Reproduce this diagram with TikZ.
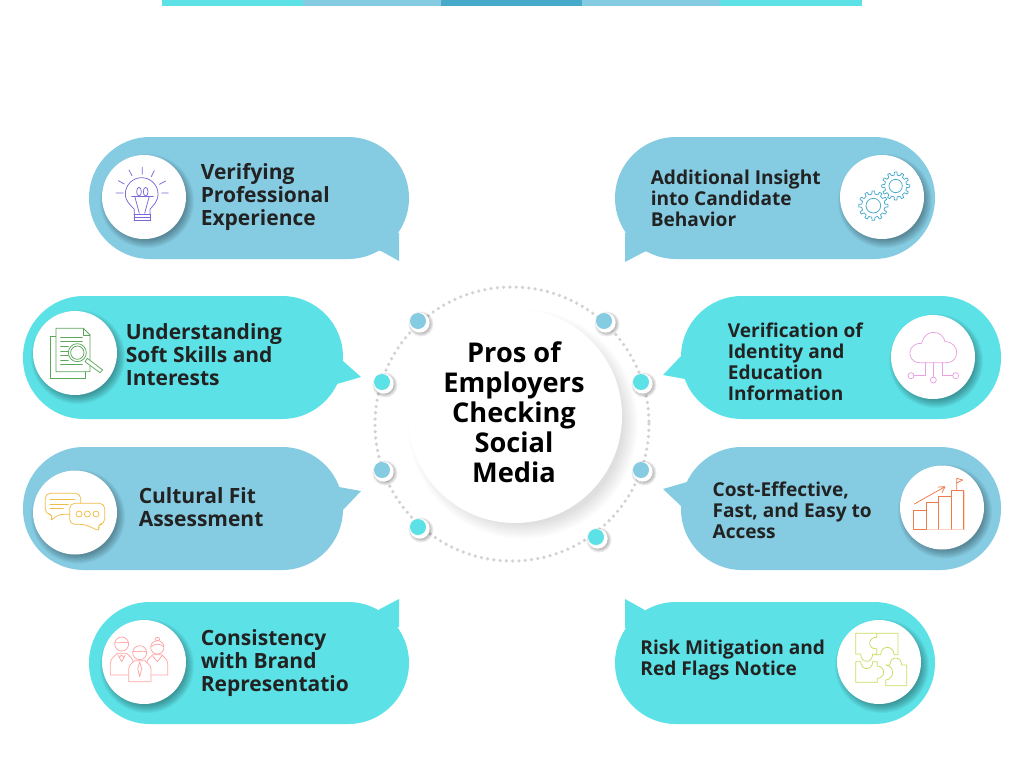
\documentclass[tikz,border=0pt]{standalone}
\usepackage{fontspec}
\setmainfont{Open Sans}
\definecolor{teal}{HTML}{5CE1E6}
\definecolor{sky}{HTML}{85CBE2}
\definecolor{deep}{HTML}{48AACB}
\definecolor{ink}{HTML}{222222}
\definecolor{ringgray}{HTML}{D2D2D2}
\definecolor{cbulb}{HTML}{7B68D8}
\definecolor{cdoc}{HTML}{5BA85B}
\definecolor{cchat}{HTML}{F0BE48}
\definecolor{cpeople}{HTML}{FFA6A6}
\definecolor{ccloud}{HTML}{E8A2E2}
\definecolor{cchart}{HTML}{EE7B4A}
\definecolor{cpale}{HTML}{FAD5C2}
\definecolor{cpuzzle}{HTML}{CBDD5E}
\tikzset{
  x=1pt,y=-1pt,
  bubbleshape/.style={rounded corners=61pt},
  iconcircle/.style={circle,fill=white,minimum size=84pt,inner sep=0pt},
  bigtext/.style={anchor=base west,align=left,inner sep=0pt,text=ink,font=\fontsize{21}{23}\selectfont\bfseries},
  smalltext/.style={anchor=base west,align=left,inner sep=0pt,text=ink,font=\fontsize{19.1}{21}\selectfont\bfseries},
  icon/.style={line width=0.75pt,line join=round,line cap=round},
  zoomcrop/.style={shift={#1},scale=1/3},
  smalldot/.style={circle,inner sep=0pt,minimum size=16pt},
}
\newcommand{\softshadow}[3]{%
  \foreach \k in {0,1,...,8}{\fill[black,opacity=.04] (#1+3,#2+4) circle ({#3-3+\k});}}
\newcommand{\gearshape}[5]{% cx cy R r inner
  \draw[icon,deep,fill=white] (#1+#3,#2)
   \foreach \a in {0,30,...,330}{
     -- ({#1+#3*cos(\a+5)},{#2+#3*sin(\a+5)})
     -- ({#1+#4*cos(\a+8)},{#2+#4*sin(\a+8)})
     -- ({#1+#4*cos(\a+22)},{#2+#4*sin(\a+22)})
     -- ({#1+#3*cos(\a+25)},{#2+#3*sin(\a+25)})
     -- ({#1+#3*cos(\a+30)},{#2+#3*sin(\a+30)})
   } -- cycle;
  \draw[icon,deep] (#1,#2) circle (#5);}
\newcommand{\ringdot}[4]{% name x y colour
  \foreach \k in {0,1,2,3}{\fill[black,opacity=.07] (#2+3,#3+3) circle ({9.5+\k});}
  \fill[white] (#2+1.7,#3+1.7) circle (10);
  \node[smalldot,fill=#4] (#1) at (#2,#3) {};}
\begin{document}
\begin{tikzpicture}
\useasboundingbox (0,0) rectangle (1024,768);
\fill[white] (0,0) rectangle (1024,768);
% top strip
\fill[teal] (162,0) rectangle (303,6);
\fill[sky] (303,0) rectangle (441,6);
\fill[deep] (441,0) rectangle (582,6);
\fill[sky] (582,0) rectangle (720,6);
\fill[teal] (720,0) rectangle (862,6);
% ring
\foreach \k in {0,1,...,15}{\fill[black,opacity=.006] (523,424) circle ({100+\k});}
\draw[ringgray,line width=3.6pt,line cap=round,dash pattern=on 0pt off 6.31pt] (512,424) circle (137);
\fill[white] (515,416) circle (107);
\node[circle,inner sep=0pt,minimum size=214pt] (hub) at (515,416) {};
\node[anchor=base,align=center,inner sep=0pt,text=black,font=\fontsize{27.2}{30}\selectfont\bfseries] (title) at (514,482) {Pros of\\Employers\\Checking\\Social\\Media};
\ringdot{d1}{418}{321}{sky}
\ringdot{d2}{604}{321}{sky}
\ringdot{d3}{382}{382}{teal}
\ringdot{d4}{641}{382}{teal}
\ringdot{d5}{382}{470}{sky}
\ringdot{d6}{641}{470}{sky}
\ringdot{d7}{418}{527}{teal}
\ringdot{d8}{596}{537}{teal}
% bubbles
\fill[sky,bubbleshape] (89,137) rectangle (409,259);
\fill[sky] (399,233) -- (399,261) -- (381,251) -- (340,240) -- cycle;
\fill[teal,bubbleshape] (23,296) rectangle (343,419);
\fill[teal] (343,361) -- (361,377) -- (337,384) -- (320,370) -- cycle;
\fill[sky,bubbleshape] (23,447) rectangle (343,570);
\fill[sky] (339,487) -- (361,491) -- (343,510) -- (320,500) -- cycle;
\fill[teal,bubbleshape] (89,602) rectangle (409,724);
\fill[teal] (380,609) -- (399,599) -- (399,627) -- (340,640) -- cycle;
\fill[sky,bubbleshape] (615,137) rectangle (935,259);
\fill[sky] (625,233) -- (625,262) -- (644,252) -- (680,240) -- cycle;
\fill[teal,bubbleshape] (681,296) rectangle (1001,419);
\fill[teal] (681,356) -- (663,375) -- (685,379) -- (710,370) -- cycle;
\fill[sky,bubbleshape] (681,447) rectangle (1001,570);
\fill[sky] (687,482) -- (663,489) -- (681,506) -- (710,495) -- cycle;
\fill[teal,bubbleshape] (615,602) rectangle (935,724);
\fill[teal] (643,609) -- (625,599) -- (625,628) -- (680,640) -- cycle;
% icon discs
\softshadow{144}{197}{42}\node[iconcircle] (c1) at (144,197) {};
\softshadow{75}{353}{42}\node[iconcircle] (c2) at (75,353) {};
\softshadow{75}{512.5}{42}\node[iconcircle] (c3) at (75,512.5) {};
\softshadow{144}{662}{42}\node[iconcircle] (c4) at (144,662) {};
\softshadow{882}{197}{42}\node[iconcircle] (c5) at (882,197) {};
\softshadow{933}{357}{42}\node[iconcircle] (c6) at (933,357) {};
\softshadow{942}{507.5}{42}\node[iconcircle] (c7) at (942,507.5) {};
\softshadow{879}{662}{42}\node[iconcircle] (c8) at (879,662) {};
% labels
\node[bigtext] (t1) at (200.6,225) {Verifying\\Professional\\Experience};
\node[bigtext] (t2) at (125.6,385) {Understanding\\Soft Skills and\\Interests};
\node[bigtext] (t3) at (138.6,526) {Cultural Fit\\Assessment};
\node[bigtext] (t4) at (200.6,691) {Consistency\\with Brand\\Representatio};
\node[smalltext] (t5) at (650.6,226) {Additional Insight\\into Candidate\\Behavior};
\node[smalltext] (t6) at (727.6,400) {Verification of\\Identity and\\Education\\Information};
\node[smalltext] (t7) at (712.4,538) {Cost-Effective,\\Fast, and Easy to\\Access};
\node[smalltext] (t8) at (640.2,675) {Risk Mitigation and\\Red Flags Notice};
% bulb icon
\begin{scope}[zoomcrop={(0,120)},cbulb]
\draw[icon] (403,282) -- (403,268) .. controls (392,255) and (376,245) .. (376,222) arc[start angle=180,end angle=360,radius=49] .. controls (474,245) and (460,255) .. (450,268) -- (450,282);
\draw[icon] (402,282) -- (452,282) (402,291) -- (452,291) (402,302) -- (452,302) (402,282) -- (402,302) (452,282) -- (452,302);
\draw[icon] (395,229) -- (460,229);
\draw[icon] (417,215) ellipse (7 and 13) (437,215) ellipse (7 and 13);
\draw[icon] (405,232) -- (418,280) (447,232) -- (434,280);
\draw[icon] (427,142) -- (427,163) (387,150) -- (396,167) (463,152) -- (454,170) (355,182) -- (373,192) (497,183) -- (478,193) (348,219) -- (370,219) (485,219) -- (505,219);
\end{scope}
% document icon
\begin{scope}[zoomcrop={(0,120)},cdoc]
\draw[icon] (168,650) -- (151,650) -- (151,776) -- (255,776) -- (255,755);
\draw[icon,fill=white] (168,625) -- (250,625) -- (270,645) -- (270,755) -- (168,755) -- cycle;
\draw[icon] (250,625) -- (250,645) -- (270,645);
\draw[icon] (182,652) -- (247,652) (182,665) -- (247,665) (182,680) -- (205,680) (182,695) -- (205,695) (182,707) -- (205,707) (182,720) -- (205,720) (182,733) -- (247,733);
\draw[icon,fill=white] (262,715) -- (308,750) -- (300,758) -- (255,725) -- cycle;
\draw[icon,fill=white] (232,698) circle (27);
\draw[icon] (232,698) circle (20);
\end{scope}
% chat icon
\begin{scope}[zoomcrop={(0,430)},cchat]
\draw[icon,rounded corners=5pt] (175,253) -- (148,276) -- (162,253) -- (136,253) -- (136,190) -- (242,190) -- (242,253) -- cycle;
\draw[icon] (150,208) -- (225,208) (150,222) -- (205,222) (150,235) -- (190,235);
\draw[icon,fill=white,rounded corners=5pt] (209,220) -- (314,220) -- (314,283) -- (290,283) -- (302,305) -- (255,283) -- (209,283) -- cycle;
\draw[icon] (237,252) circle (9) (262,252) circle (9) (288,252) circle (9);
\end{scope}
% people icon
\begin{scope}[zoomcrop={(0,430)},cpeople]
\draw[icon] (331,735) -- (331,700) .. controls (331,685) and (345,678) .. (352,670) -- (380,670) .. controls (388,678) and (400,685) .. (400,700) -- (400,735) -- cycle;
\draw[icon,fill=white] (365,642) circle (21);
\draw[icon] (345,638) .. controls (360,640) and (375,635) .. (385,638);
\draw[icon] (354,675) -- (365,695) -- (376,675) (358,682) -- (365,675) -- (372,682);
\draw[icon] (440,735) -- (503,735) -- (503,700) .. controls (503,688) and (492,682) .. (485,674) -- (458,674) .. controls (450,682) and (440,690) .. (440,700);
\draw[icon,fill=white] (472,652) circle (20);
\draw[icon] (472,627) ellipse (7 and 5);
\draw[icon] (453,650) .. controls (465,640) and (480,640) .. (491,650);
\draw[icon] (458,678) -- (472,695) -- (485,678);
\draw[icon,fill=white] (386,755) -- (386,718) .. controls (386,705) and (396,700) .. (404,692) -- (434,692) .. controls (442,700) and (453,705) .. (453,718) -- (453,755) -- cycle;
\draw[icon,fill=white] (419,668) circle (21);
\draw[icon] (399,664) .. controls (412,668) and (428,660) .. (439,666);
\draw[icon] (419,696) -- (413,716) -- (419,740) -- (425,716) -- cycle;
\end{scope}
% gears icon
\begin{scope}[zoomcrop={(610,120)}]
\gearshape{857}{198}{42}{33}{20}
\gearshape{790}{257}{44}{35}{22}
\end{scope}
% cloud icon
\begin{scope}[zoomcrop={(610,120)},ccloud]
\draw[icon] (930,728) .. controls (905,728) and (898,708) .. (900,695) .. controls (902,680) and (918,668) .. (935,670) .. controls (940,648) and (955,637) .. (970,637) .. controls (990,637) and (1002,650) .. (1005,665) .. controls (1028,665) and (1040,682) .. (1040,697) .. controls (1040,715) and (1028,728) .. (1010,728) -- cycle;
\draw[icon] (945,728) -- (945,767) -- (912,767) (970,728) -- (970,771) (997,728) -- (997,767) -- (1028,767);
\draw[icon] (903,767) circle (9) (970,780) circle (9) (1037,767) circle (9);
\end{scope}
% chart icon
\begin{scope}[zoomcrop={(610,430)},cchart]
\draw[cpale,line width=1pt] (910,298) -- (1063,298) -- (1063,182);
\draw[icon] (910,297) -- (910,240) -- (948,240) -- (948,297) -- cycle;
\draw[icon] (948,297) -- (948,217) -- (986,217) -- (986,297);
\draw[icon] (986,297) -- (986,200) -- (1024,200) -- (1024,297);
\draw[icon] (1024,297) -- (1024,182) -- (1061,182) -- (1061,297);
\draw[icon] (913,222) -- (1005,170) (985,171) -- (1005,170) -- (996,188);
\draw[icon] (1040,182) -- (1040,145) -- (1058,150) -- (1042,158);
\end{scope}
% puzzle icon
\begin{scope}[zoomcrop={(610,430)},cpuzzle]
\draw[icon] (800,610) -- (864,610) -- (864,674) -- (852,674) .. controls (852,660) and (842,652) .. (832,652) .. controls (822,652) and (812,660) .. (812,674) -- (800,674);
\draw[icon] (737,672) -- (737,610) -- (800,610) -- (800,622) .. controls (788,620) and (779,630) .. (779,640) .. controls (779,650) and (788,658) .. (800,656) -- (800,674) -- (788,672) .. controls (788,685) and (780,694) .. (770,694) .. controls (760,694) and (752,685) .. (752,672) -- cycle;
\draw[icon] (737,695) -- (752,695) .. controls (752,708) and (762,716) .. (770,716) .. controls (780,716) and (788,708) .. (788,695) -- (802,695) -- (802,708) .. controls (815,708) and (821,718) .. (821,727) .. controls (821,737) and (812,745) .. (802,745) -- (802,757) -- (737,757) -- cycle;
\draw[icon] (827,705) -- (840,705) .. controls (840,692) and (848,684) .. (857,684) .. controls (866,684) and (875,692) .. (875,705) -- (890,705) -- (890,767) -- (827,767) -- (827,750) .. controls (838,750) and (848,740) .. (848,727) .. controls (848,715) and (838,706) .. (827,705) -- cycle;
\end{scope}
\end{tikzpicture}
\end{document}
